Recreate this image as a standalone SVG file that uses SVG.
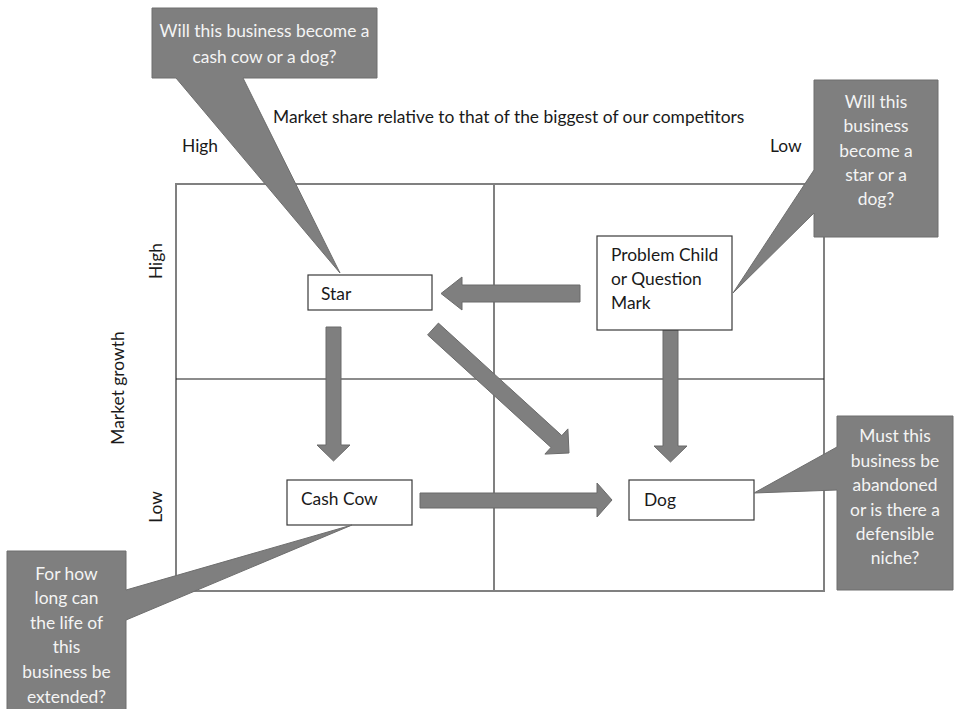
<svg xmlns="http://www.w3.org/2000/svg" width="955" height="709" viewBox="0 0 955 709">
  <style>
    text { font-family: Lato, "Liberation Sans", sans-serif; font-size: 17.4px; fill: #1a1a1a; }
    .note text { fill: #f4f4f4; text-anchor: middle; }
    .note path { fill: #7f7f7f; stroke: #6e6e6e; stroke-width: 1; }
    .box rect { fill: #ffffff; stroke: #3a3a3a; stroke-width: 1.2; }
    .arrow { fill: #7f7f7f; stroke: #6b6b6b; stroke-width: 1; }
    .grid { fill: none; stroke: #808080; stroke-width: 2; }
  </style>

  <!-- growth/share matrix -->
  <g id="matrix">
    <rect class="grid" x="176" y="184" width="648" height="407"/>
    <line class="grid" x1="494" y1="184" x2="494" y2="591"/>
    <line x1="176" y1="379" x2="824" y2="379" stroke="#1a1a1a" stroke-width="1.2"/>
  </g>

  <!-- axis labels -->
  <g id="axes">
    <text x="273" y="123">Market share relative to that of the biggest of our competitors</text>
    <text x="182" y="152">High</text>
    <text x="770" y="152">Low</text>
    <text x="162" y="261" text-anchor="middle" transform="rotate(-90 162 261)">High</text>
    <text x="124" y="388" text-anchor="middle" transform="rotate(-90 124 388)">Market growth</text>
    <text x="162" y="507" text-anchor="middle" transform="rotate(-90 162 507)">Low</text>
  </g>

  <!-- transitions between quadrants -->
  <g id="connectors">
    <polygon class="arrow" points="580,285 462,285 462,277 441,293.5 462,310 462,302 580,302"/>
    <polygon class="arrow" points="326,327 341,327 341,445 350,445 333.5,461 317,445 326,445"/>
    <polygon class="arrow" points="438.4,323.1 561.8,435.6 567.9,428.9 569,453 544.9,454.1 551,447.4 427.6,334.9"/>
    <polygon class="arrow" points="663,330 678,330 678,446 687,446 670.5,462 654,446 663,446"/>
    <polygon class="arrow" points="420,493 597,493 597,483 612,500 597,517 597,508 420,508"/>
  </g>

  <!-- quadrant nodes -->
  <g id="star" class="box">
    <rect x="308" y="275" width="124" height="35"/>
    <text x="321" y="300">Star</text>
  </g>
  <g id="problem-child" class="box">
    <rect x="597" y="236" width="135" height="94"/>
    <text x="611" y="261">Problem Child</text>
    <text x="611" y="285">or Question</text>
    <text x="611" y="309">Mark</text>
  </g>
  <g id="cash-cow" class="box">
    <rect x="287" y="480" width="125" height="45"/>
    <text x="301" y="505">Cash Cow</text>
  </g>
  <g id="dog" class="box">
    <rect x="629" y="480" width="125" height="40"/>
    <text x="644" y="506">Dog</text>
  </g>

  <!-- question callouts -->
  <g id="note-star" class="note">
    <path d="M152,8 H377 V78 H243 L340,273 L176,78 H152 Z"/>
    <text x="264.5" y="37">Will this business become a</text>
    <text x="264.5" y="63">cash cow or a dog?</text>
  </g>
  <g id="note-problem-child" class="note">
    <path d="M814,80 H938 V237 H814 V213 L733,293 L814,170 Z"/>
    <text x="876" y="108">Will this</text>
    <text x="876" y="132">business</text>
    <text x="876" y="157">become a</text>
    <text x="876" y="181">star or a</text>
    <text x="876" y="205">dog?</text>
  </g>
  <g id="note-cash-cow" class="note">
    <path d="M7,551 H126 V590 L352,525 L126,620 V715 H7 Z"/>
    <text x="66.5" y="580">For how</text>
    <text x="66.5" y="604">long can</text>
    <text x="66.5" y="629">the life of</text>
    <text x="66.5" y="653">this</text>
    <text x="66.5" y="678">business be</text>
    <text x="66.5" y="703">extended?</text>
  </g>
  <g id="note-dog" class="note">
    <path d="M837,416 H953 V590 H837 V490 L754,493 L837,447 Z"/>
    <text x="895" y="442">Must this</text>
    <text x="895" y="467">business be</text>
    <text x="895" y="491">abandoned</text>
    <text x="895" y="516">or is there a</text>
    <text x="895" y="540">defensible</text>
    <text x="895" y="564">niche?</text>
  </g>
</svg>
